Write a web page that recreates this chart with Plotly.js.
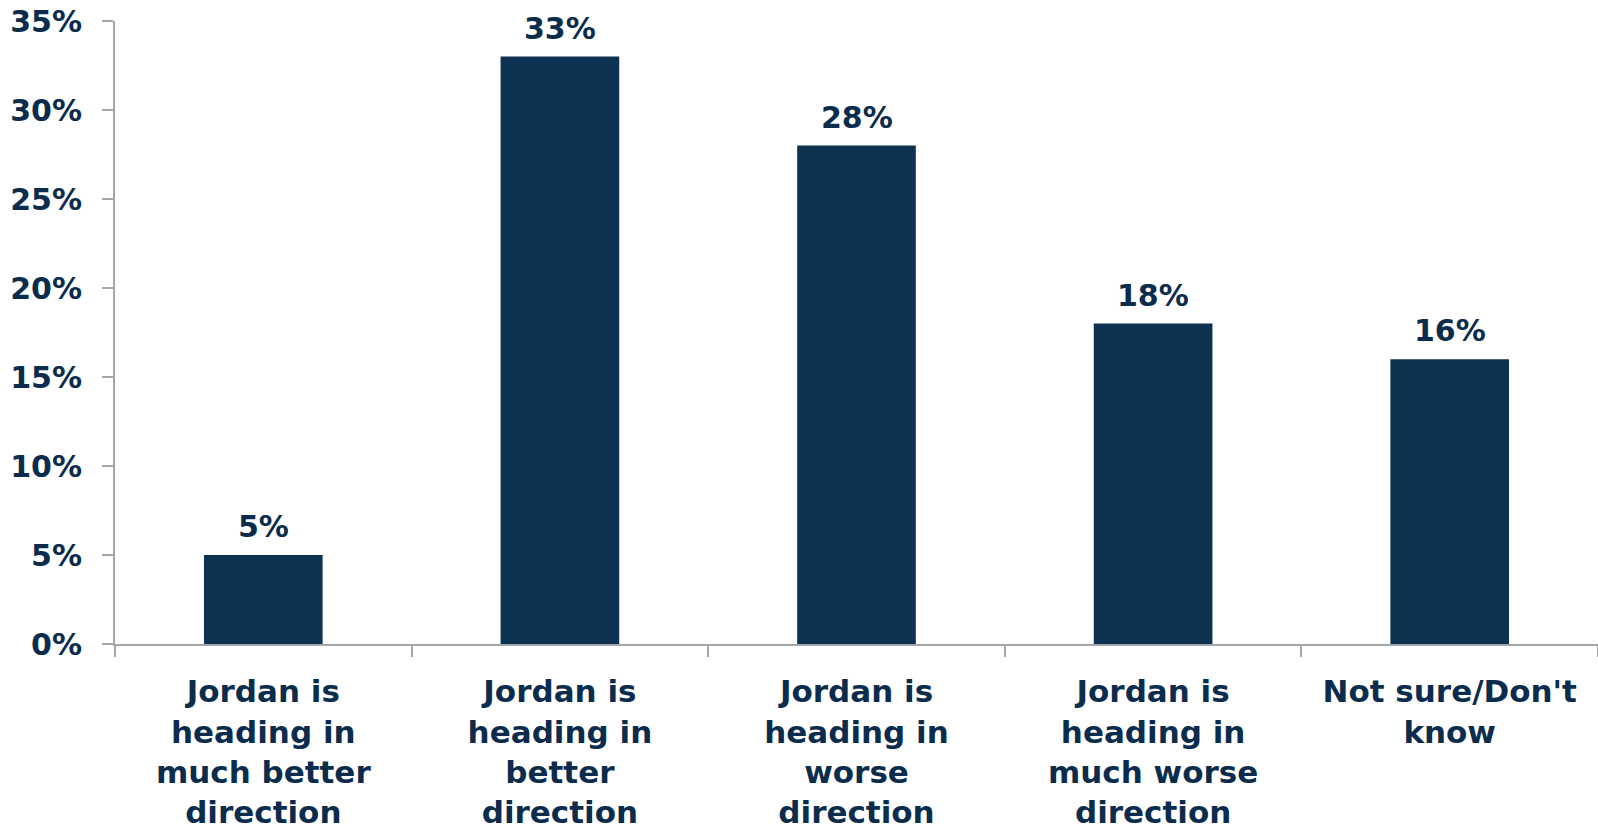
<!DOCTYPE html>
<html>
<head>
<meta charset="utf-8">
<script src="https://cdn.plot.ly/plotly-3.0.1.min.js"></script>
<style>
html,body{margin:0;padding:0;background:#fff;}
#chart{width:1598px;height:839px;}
</style>
</head>
<body>
<div id="chart"></div>
<script>
const categories = [
  "Jordan is<br>heading in<br>much better<br>direction",
  "Jordan is<br>heading in<br>better<br>direction",
  "Jordan is<br>heading in<br>worse<br>direction",
  "Jordan is<br>heading in<br>much worse<br>direction",
  "Not sure/Don't<br>know"
];
const values = [5, 33, 28, 18, 16];
const valueLabels = ["5%", "33%", "28%", "18%", "16%"];
const yTickVals = [0, 5, 10, 15, 20, 25, 30, 35];
const yTickText = ["0%", "5%", "10%", "15%", "20%", "25%", "30%", "35%"];

const navy = "#0b2c4d";
const barColor = "#0d3151";
const axisGray = "#a3a6ab";
const fontFam = "DejaVu Sans, Verdana, sans-serif";

const trace = {
  type: "bar",
  x: categories,
  y: values,
  marker: {color: barColor, line: {width: 0}},
  hoverinfo: "none"
};

const annotations = categories.map((c, i) => ({
  x: c, y: values[i], xref: "x", yref: "y",
  text: "<b>" + valueLabels[i] + "</b>",
  showarrow: false, yanchor: "bottom", yshift: 9,
  font: {family: fontFam, size: 30, color: navy}
}));

const layout = {
  width: 1598, height: 839,
  margin: {l: 115, r: 0, t: 21, b: 195},
  paper_bgcolor: "#ffffff",
  plot_bgcolor: "#ffffff",
  bargap: 0.6,
  showlegend: false,
  font: {family: fontFam, color: navy},
  xaxis: {
    type: "category",
    tickson: "boundaries",
    ticks: "outside",
    ticklen: 11,
    tickwidth: 2,
    tickcolor: axisGray,
    showline: true,
    linecolor: axisGray,
    linewidth: 2,
    showgrid: false,
    zeroline: false,
    tickangle: 0,
    ticklabelstandoff: 19,
    tickfont: {family: fontFam, size: 31, color: navy, weight: "bold"}
  },
  yaxis: {
    range: [0, 35],
    tickvals: yTickVals,
    ticktext: yTickText,
    ticks: "outside",
    ticklen: 11,
    tickwidth: 2,
    tickcolor: axisGray,
    showline: true,
    linecolor: axisGray,
    linewidth: 2,
    showgrid: false,
    zeroline: false,
    ticklabelstandoff: 14,
    tickfont: {family: fontFam, size: 30, color: navy, weight: "bold"}
  },
  annotations: annotations
};

Plotly.newPlot("chart", [trace], layout, {displayModeBar: false, staticPlot: true});
</script>
</body>
</html>
